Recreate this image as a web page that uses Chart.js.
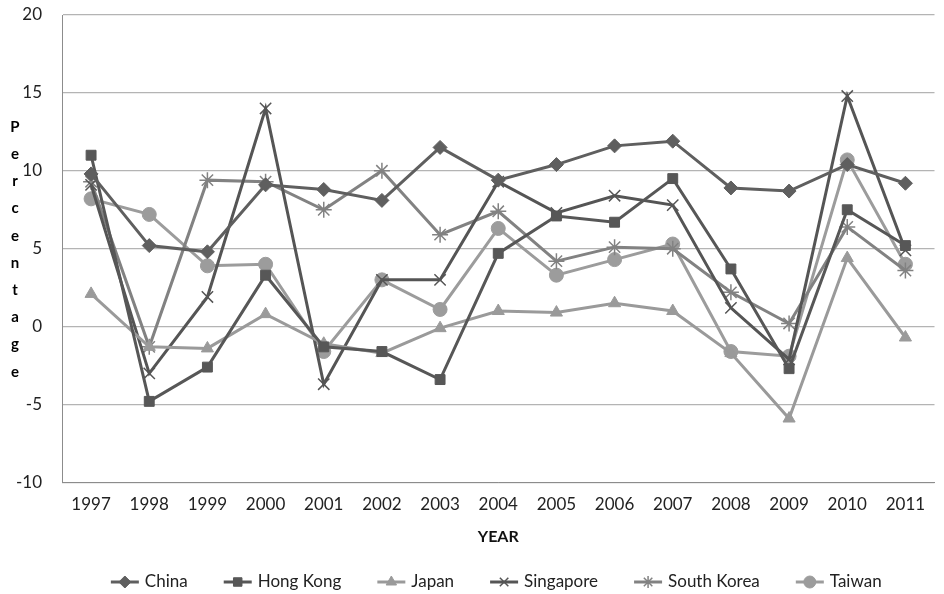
<!DOCTYPE html>
<html>
<head>
<meta charset="utf-8">
<script src="https://cdn.jsdelivr.net/npm/chart.js@4/dist/chart.umd.min.js"></script>
<style>
  body { margin: 0; background: #fff; }
  #wrap { width: 944px; height: 594px; }
</style>
</head>
<body>
<div id="wrap"><canvas id="GrowthChart" width="944" height="594"></canvas></div>
<script>
const years = ["1997","1998","1999","2000","2001","2002","2003","2004","2005","2006","2007","2008","2009","2010","2011"]
const china = [9.8, 5.2, 4.8, 9.1, 8.8, 8.1, 11.5, 9.4, 10.4, 11.6, 11.9, 8.9, 8.7, 10.4, 9.2]
const hongKong = [11.0, -4.8, -2.6, 3.3, -1.3, -1.6, -3.4, 4.7, 7.1, 6.7, 9.5, 3.7, -2.7, 7.5, 5.2]
const japan = [2.1, -1.3, -1.4, 0.8, -1.1, -1.7, -0.1, 1.0, 0.9, 1.5, 1.0, -1.7, -5.9, 4.4, -0.7]
const singapore = [9.1, -3.0, 1.9, 14.0, -3.7, 3.0, 3.0, 9.3, 7.3, 8.4, 7.8, 1.2, -2.1, 14.8, 4.9]
const southKorea = [9.3, -1.3, 9.4, 9.3, 7.5, 10.0, 5.9, 7.4, 4.2, 5.1, 5.0, 2.2, 0.2, 6.4, 3.6]
const taiwan = [8.2, 7.2, 3.9, 4.0, -1.6, 3.0, 1.1, 6.3, 3.3, 4.3, 5.3, -1.6, -1.9, 10.7, 4.0]
const yTitle = "Percentage"

const fontName = "Lato"

function series(label, data, color, style, radius) {
  const thin = style === "crossRot" || style === "star"
  return {
    label, data,
    borderColor: color,
    backgroundColor: color,
    pointStyle: style,
    pointRadius: radius,
    pointHoverRadius: radius,
    pointBorderColor: color,
    pointBackgroundColor: color,
    pointBorderWidth: thin ? 1.5 : 1,
    borderWidth: 3,
    tension: 0,
    fill: false
  }
}

// stacked letters for the y title, Excel style
const stackedTitle = {
  id: "stackedTitle",
  afterDraw(chart) {
    const ctx = chart.ctx
    ctx.save()
    ctx.font = "bold 15px " + fontName
    ctx.fillStyle = "#000"
    ctx.textAlign = "center"
    ctx.textBaseline = "middle"
    let y = 127
    yTitle.split("").forEach(l => {
      ctx.fillText(l, 15, y)
      y += 27.2
    })
    ctx.restore()
  }
}

// legend with line + marker like the original
const lineLegend = {
  id: "lineLegend",
  afterDraw(chart) {
    const ctx = chart.ctx
    ctx.save()
    ctx.font = "17px " + fontName
    ctx.textBaseline = "middle"
    const sets = chart.data.datasets
    const segW = 28, gap = 6, between = 36
    let total = 0
    sets.forEach((d, i) => {
      total += segW + gap + ctx.measureText(d.label).width
      if (i < sets.length - 1) total += between
    })
    const area = chart.chartArea
    let x = (area.left + area.right - total) / 2 - 2
    const y = 582
    sets.forEach(d => {
      ctx.strokeStyle = d.borderColor
      ctx.lineWidth = 3
      ctx.beginPath()
      ctx.moveTo(x, y)
      ctx.lineTo(x + segW, y)
      ctx.stroke()
      ctx.fillStyle = d.pointBackgroundColor
      ctx.strokeStyle = d.pointBorderColor
      ctx.lineWidth = d.pointBorderWidth
      Chart.helpers.drawPoint(ctx, { pointStyle: d.pointStyle, radius: 6, borderWidth: d.pointBorderWidth }, x + segW / 2, y)
      ctx.fillStyle = "#222"
      ctx.fillText(d.label, x + segW + gap, y)
      x += segW + gap + ctx.measureText(d.label).width + between
    })
    ctx.restore()
  }
}

const ctx = document.getElementById("GrowthChart").getContext("2d")

const config = {
  type: "line",
  data: {
    labels: years,
    datasets: [
      series("China", china, "#5f5f5f", "rectRot", 7),
      series("Hong Kong", hongKong, "#575757", "rect", 7),
      series("Japan", japan, "#9a9a9a", "triangle", 7),
      series("Singapore", singapore, "#555555", "crossRot", 8),
      series("South Korea", southKorea, "#828282", "star", 8),
      series("Taiwan", taiwan, "#9c9c9c", "circle", 7)
    ]
  },
  options: {
    responsive: false,
    animation: false,
    layout: { padding: { top: 15, right: 4, left: 0, bottom: 44 } },
    plugins: {
      legend: { display: false },
      tooltip: { enabled: false }
    },
    scales: {
      x: {
        offset: true,
        grid: { display: false, drawTicks: false },
        border: { color: "#8c8c8c", width: 1 },
        ticks: { color: "#222", font: { family: fontName, size: 17 }, padding: 12, maxRotation: 0 },
        title: { display: true, text: "YEAR", color: "#111", font: { family: fontName, size: 16, weight: "bold" }, padding: { top: 0, bottom: 4 } }
      },
      y: {
        min: -10, max: 20,
        afterFit(scale) {
          scale.width = 62
          scale.paddingTop = 0
          scale.paddingBottom = 0
        },
        grid: { color: "#b4b4b4", lineWidth: 1.2, drawTicks: false },
        border: { color: "#8c8c8c", width: 1 },
        ticks: { stepSize: 5, color: "#222", font: { family: fontName, size: 17 }, padding: 20 }
      }
    }
  },
  plugins: [stackedTitle, lineLegend]
}

const myChart = new Chart(ctx, config)
</script>
</body>
</html>
